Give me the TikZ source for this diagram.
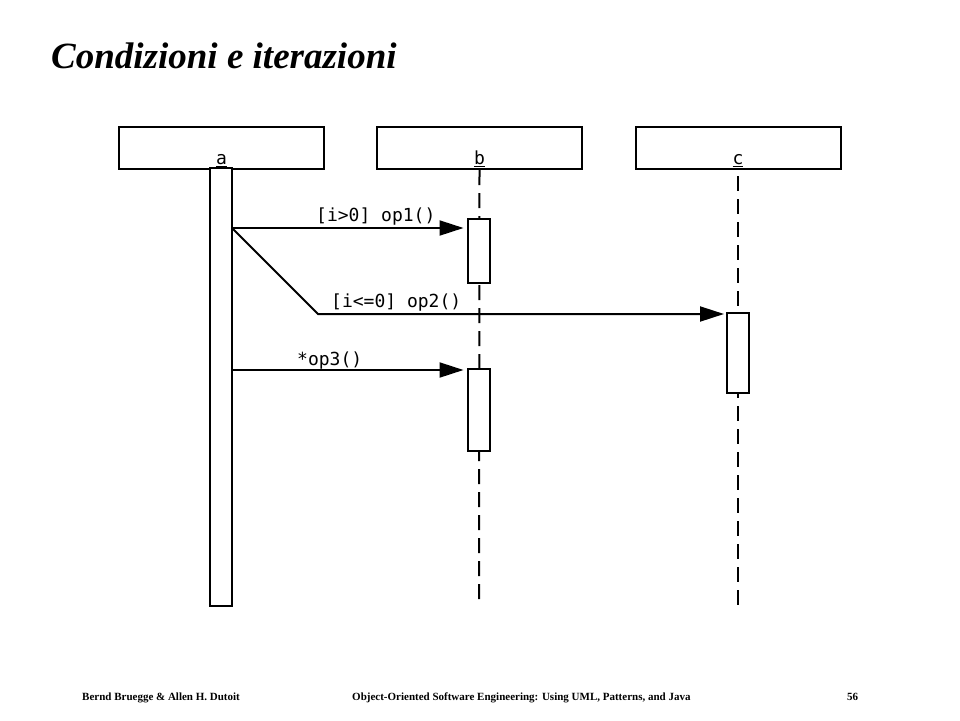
\documentclass[tikz,border=0pt]{standalone}
\usepackage{fontspec}
\setmainfont{Liberation Serif}
\newfontfamily\umlfont{DejaVu Sans Mono}
\usetikzlibrary{arrows.meta}

\tikzset{
  objbox/.style={draw, line width=2pt, minimum width=205pt, minimum height=42pt, inner sep=0pt},
  objlabel/.style={anchor=south, inner sep=3pt, font=\umlfont\fontsize{18}{21}\selectfont},
  actbox/.style={draw, fill=white, line width=2pt, minimum width=22pt, inner sep=0pt},
  lifeline/.style={line width=2pt, dash pattern=on 15pt off 8pt},
  msglabel/.style={inner sep=0pt, anchor=base west, font=\umlfont\fontsize{18}{21}\selectfont},
  foot/.style={inner sep=0pt, anchor=base west, font=\bfseries\fontsize{11}{13}\selectfont}
}

\begin{document}
\begin{tikzpicture}[x=1pt,y=-1pt]
\useasboundingbox (0,0) rectangle (960,720);

% title
\node[inner sep=0pt, anchor=base west, font=\bfseries\itshape\fontsize{37}{44}\selectfont] (title) at (51,68) {Condizioni e iterazioni};

% objects
\node[objbox] (a) at (221.5,148) {};
\node[objbox] (b) at (479.5,148) {};
\node[objbox] (c) at (738,148) {};
\node[objlabel] (la) at (a.south) {\underline{a}};
\node[objlabel] (lb) at (b.south) {\underline{b}};
\node[objlabel] (lc) at (c.south) {\underline{c}};

% lifelines
\coordinate (bend) at (479,600);
\coordinate (cend) at (738,605);
\draw[lifeline] (b.south) -- (bend);
\draw[lifeline] (c.south) ++(0,6) -- (cend);

% activations
\node[actbox, minimum height=438pt] (actA) at (221,387) {};
\node[actbox, minimum height=64pt] (actB1) at (478.5,251) {};
\node[actbox, minimum height=82pt] (actB2) at (478.5,410) {};
\node[actbox, minimum height=80pt] (actC) at (738,353) {};

% messages
\coordinate (s1) at (232,228);
\coordinate (k2) at (318,314);
\coordinate (s3) at (232,370);
\path[draw,line width=2pt,->,>={Triangle[length=24pt,width=15pt]},shorten >=3pt] (s1) -- (s1 -| actB1.west);
\path[draw,line width=2pt,->,>={Triangle[length=24pt,width=15pt]},shorten >=2pt] (s1) -- (k2) -- (k2 -| actC.west);
\path[draw,line width=2pt,->,>={Triangle[length=24pt,width=15pt]},shorten >=3pt] (s3) -- (s3 -| actB2.west);

\node[msglabel] (l1) at (316,221) {[i>0] op1()};
\node[msglabel] (l2) at (331,307) {[i<=0] op2()};
\node[msglabel] (l3) at (297,365) {*op3()};

% footer
\node[foot] (f1) at (82,700) {Bernd Bruegge \& Allen H. Dutoit};
\node[foot] (f2) at (352,700) {Object-Oriented Software Engineering: Using UML, Patterns, and Java};
\node[foot] (f3) at (847,700) {56};
\end{tikzpicture}
\end{document}
